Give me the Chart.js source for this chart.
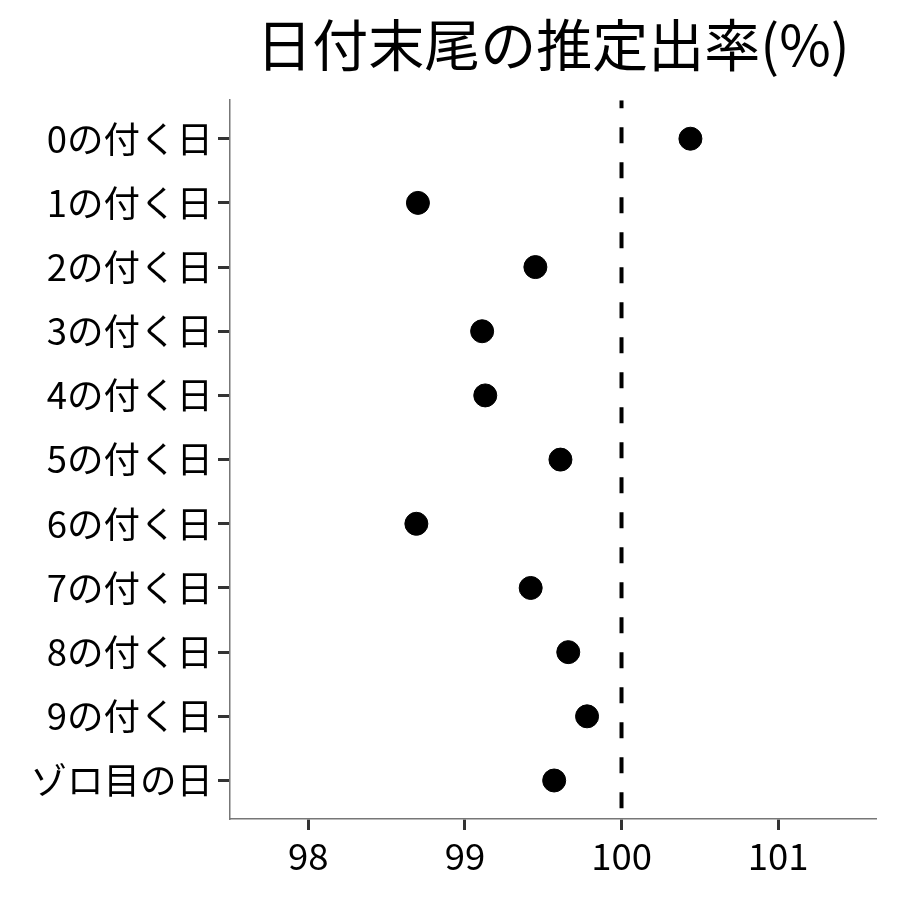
<!DOCTYPE html>
<html>
<head>
<meta charset="utf-8">
<script src="https://cdn.jsdelivr.net/npm/chart.js@4.4.1/dist/chart.umd.min.js"></script>
<style>
html,body{margin:0;padding:0;background:#fff;}
#wrap{width:900px;height:900px;}
</style>
</head>
<body>
<div id="wrap"><canvas id="c" width="900" height="900"></canvas></div>
<script>
const categories = ["0の付く日","1の付く日","2の付く日","3の付く日","4の付く日","5の付く日","6の付く日","7の付く日","8の付く日","9の付く日","ゾロ目の日"];
const rates = [100.44, 98.70, 99.45, 99.11, 99.13, 99.61, 98.69, 99.42, 99.66, 99.78, 99.57];
const xTicks = [98, 99, 100, 101];
const refValue = 100;
const titleText = "日付末尾の推定出率(%)";

const FONT = "'Noto Sans CJK JP', 'Noto Sans', sans-serif";

const points = categories.map((c, i) => ({x: rates[i], y: i}));

new Chart(document.getElementById('c'), {
  type: 'scatter',
  data: {
    datasets: [
      {
        type: 'line',
        data: [{x: refValue, y: -0.6}, {x: refValue, y: categories.length - 0.4}],
        borderColor: '#000',
        borderWidth: 4,
        borderDash: [16, 19],
        borderDashOffset: 8,
        pointRadius: 0,
        showLine: true,
        fill: false,
        order: 2
      },
      {
        data: points,
        backgroundColor: '#000',
        borderColor: '#000',
        pointRadius: 11.5,
        pointHoverRadius: 11.5,
        order: 1
      }
    ]
  },
  options: {
    responsive: false,
    animation: false,
    layout: {padding: {left: 0, right: 24, top: 0, bottom: 0}},
    plugins: {
      legend: {display: false},
      tooltip: {enabled: false},
      title: {
        display: true,
        text: titleText,
        fullSize: false,
        color: '#000',
        font: {family: FONT, size: 56, weight: 'normal'},
        padding: {top: 11, bottom: 22}
      }
    },
    scales: {
      x: {
        type: 'linear',
        min: 97.5,
        max: 101.625,
        afterBuildTicks: s => { s.ticks = xTicks.map(v => ({value: v})); },
        afterFit: s => { s.height = 81; },
        grid: {display: true, drawOnChartArea: false, drawTicks: true, tickLength: 11, tickColor: '#333', tickWidth: 3},
        border: {display: true, color: '#777', width: 1.5},
        ticks: {color: '#000', font: {family: FONT, size: 36.5}, padding: 4, maxRotation: 0}
      },
      y: {
        type: 'linear',
        reverse: true,
        min: -0.6,
        max: categories.length - 0.4,
        afterBuildTicks: s => { s.ticks = categories.map((c, i) => ({value: i})); },
        afterFit: s => { s.width = 230; },
        grid: {display: true, drawOnChartArea: false, drawTicks: true, tickLength: 12, tickColor: '#333', tickWidth: 3},
        border: {display: true, color: '#777', width: 1.5},
        ticks: {
          color: '#000',
          font: {family: FONT, size: 36.5},
          padding: 5,
          callback: v => categories[v]
        }
      }
    }
  }
});
</script>
</body>
</html>
